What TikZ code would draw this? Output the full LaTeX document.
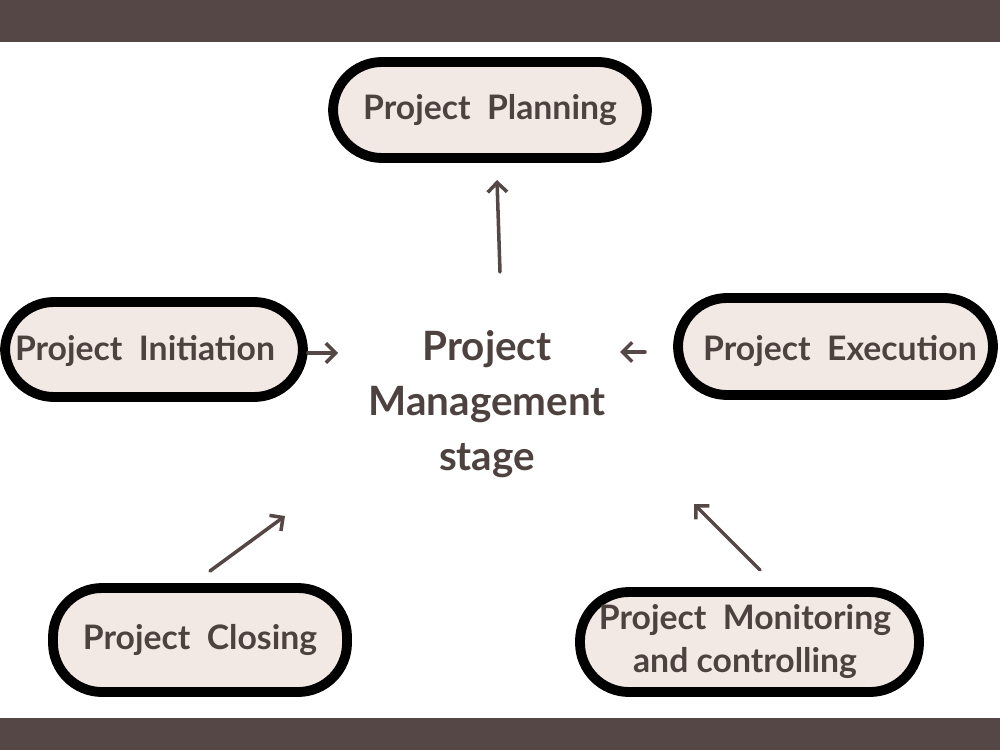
\documentclass[tikz,border=0pt]{standalone}
\usepackage{fontspec}
\setmainfont{Lato}[UprightFont=* Bold]
\usepackage{tikz}
\usetikzlibrary{arrows.meta,positioning}

\definecolor{barbrown}{HTML}{544745}
\definecolor{txtbrown}{HTML}{4E4240}
\definecolor{pillfill}{HTML}{F2E8E4}

\tikzset{
	pill/.style={draw=black,line width=5.6pt,fill=pillfill,rounded corners=0.98cm,
		text=txtbrown,font=\fontsize{19.2}{24.4}\selectfont,align=center,inner sep=0pt},
	pilltext/.style={text=txtbrown,align=center,font=\fontsize{19.2}{24.4}\selectfont},
	stagearrow/.style={draw=barbrown,line width=2pt,line cap=round,
		-{Straight Barb[length=5.5pt,width=11pt,line width=2pt]}}
}

\begin{document}
\begin{tikzpicture}

	\useasboundingbox (0,0) rectangle (20,15);
	\fill[barbrown] (0,14.16) rectangle (20,15);
	\fill[barbrown] (0,0) rectangle (20,0.64);

	% stage boxes
	\node[pill,minimum width=6.28cm,minimum height=1.92cm] (plan) at (9.8,12.8) {Project\ \ Planning};
	\node[pill,minimum width=5.96cm,minimum height=1.9cm] (init) at (3.08,8.01) {};
	\node[pilltext] (initlbl) at (2.9,7.98) {Project\ \ Initiation};
	\node[pill,minimum width=6.3cm,minimum height=1.94cm] (exec) at (16.71,8.07) {};
	\node[pilltext] (execlbl) at (16.8,7.98) {Project\ \ Execution};
	\node[pill,minimum width=5.88cm,minimum height=2.08cm] (close) at (4.0,2.2) {Project\ \ Closing};
	\node[pill,minimum width=6.78cm,minimum height=2.0cm] (monit) at (14.99,2.16) {};
	\node[pilltext] (monitlbl) at (14.9,2.17) {Project\ \ Monitoring\\and controlling};

	\node[text=txtbrown,align=center,font=\fontsize{23}{31.2}\selectfont] (pms) at (9.74,6.92) {Project\\Management\\stage};

	% arrow ends
	\coordinate (p0) at (10.0,9.56);
	\coordinate (p1) at (9.94,11.4);
	\coordinate (i0) at (6.16,7.94);
	\coordinate (i1) at (6.76,7.94);
	\coordinate (e0) at (12.9,7.96);
	\coordinate (e1) at (12.4,7.96);
	\coordinate (c0) at (4.2,3.58);
	\coordinate (c1) at (5.7,4.68);
	\coordinate (m0) at (15.2,3.6);
	\coordinate (m1) at (13.88,4.92);

	\draw[stagearrow] (p0) -- (p1);
	\draw[stagearrow] (i0) -- (i1);
	\draw[stagearrow] (e0) -- (e1);
	\draw[stagearrow] (c0) -- (c1);
	\draw[stagearrow] (m0) -- (m1);

\end{tikzpicture}
\end{document}
